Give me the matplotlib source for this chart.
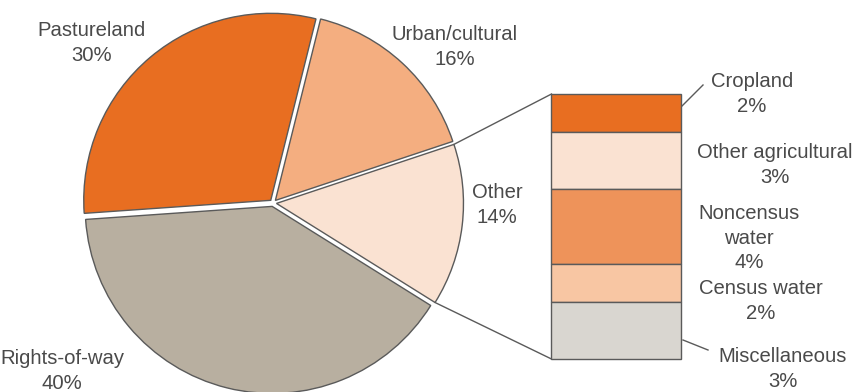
import numpy as np
import matplotlib
matplotlib.use("Agg")
import matplotlib.pyplot as plt

# Land use shares (%)
pie_labels = ["Other", "Urban/cultural", "Pastureland", "Rights-of-way"]
pie_values = [14, 16, 30, 40]
pie_colors = ["#FAE2D2", "#F4AE80", "#E86E21", "#B8AFA0"]

# Breakdown of "Other" (%)
other_labels = ["Cropland", "Other agricultural", "Noncensus\nwater", "Census water", "Miscellaneous"]
other_values = [2, 3, 4, 2, 3]
other_colors = ["#E86E21", "#FAE2D2", "#EE935A", "#F8C6A3", "#D9D6D0"]

W, H = 862, 392
EDGE = "#5a5a5a"
TXT = "#4a4a4a"
FONT = ["Liberation Sans", "DejaVu Sans"]
FS = 14.6
LS = 1.38

fig = plt.figure(figsize=(W / 100, H / 100), dpi=100)
ax = fig.add_axes([0, 0, 1, 1])


def Y(y_img):
    return H - y_img


# Pie
center = (273, Y(203))
radius = 187
wedges, _ = ax.pie(pie_values, colors=pie_colors, startangle=-32, counterclock=True,
                   radius=radius, center=center, explode=[3.5, 3.5, 3.5, 3.5],
                   wedgeprops=dict(edgecolor=EDGE, linewidth=1.0), frame=True)

# Stacked bar for the "Other" breakdown
bar_x, bar_w = 616.5, 130
bar_top, bar_total = Y(94), 265
unit = bar_total / sum(other_values)
heights = np.array(other_values) * unit
bottoms = bar_top - np.cumsum(heights)
ax.bar([bar_x] * len(heights), heights, width=bar_w, bottom=bottoms,
       color=other_colors, edgecolor=EDGE, linewidth=1.0, zorder=3)

# Connector lines from the "Other" wedge to the bar
w_other = wedges[0]
cx, cy = w_other.center
t1, t2 = np.deg2rad(w_other.theta1), np.deg2rad(w_other.theta2)
p_top = (cx + radius * np.cos(t2), cy + radius * np.sin(t2))
p_bot = (cx + radius * np.cos(t1), cy + radius * np.sin(t1))
bar_left = bar_x - bar_w / 2
ax.plot([p_top[0], bar_left], [p_top[1], bar_top], color=EDGE, lw=1.0, zorder=2)
ax.plot([p_bot[0], bar_left], [p_bot[1], bottoms[-1]], color=EDGE, lw=1.0, zorder=2)

# Pie labels
pie_text_pos = {
    "Pastureland": (92, 43),
    "Urban/cultural": (455, 47),
    "Other": (497, 205),
    "Rights-of-way": (62, 371),
}
for lab, val in zip(pie_labels, pie_values):
    x, y = pie_text_pos[lab]
    ax.text(x, Y(y), f"{lab}\n{val}%", ha="center", va="center", fontsize=FS,
            family=FONT, color=TXT, linespacing=LS)

# Bar labels
bar_text_pos = [(752, 94), (775, 165), (749, 238), (761, 301), (783, 369)]
for (x, y), lab, val in zip(bar_text_pos, other_labels, other_values):
    ax.text(x, Y(y), f"{lab}\n{val}%", ha="center", va="center", fontsize=FS,
            family=FONT, color=TXT, linespacing=LS)

# Short leader lines
ax.plot([682, 703], [Y(106), Y(85)], color=EDGE, lw=1.0)
ax.plot([683, 708], [Y(340), Y(350)], color=EDGE, lw=1.0)

ax.set_aspect("equal")
ax.set_xlim(0, W)
ax.set_ylim(0, H)
ax.axis("off")

fig.savefig("out.png", dpi=100)
